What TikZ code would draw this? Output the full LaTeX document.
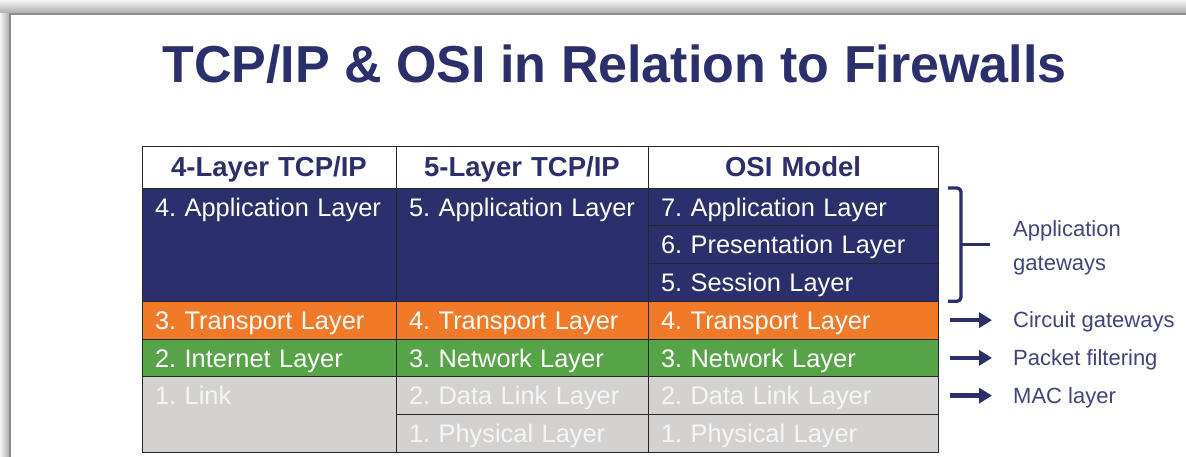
\documentclass[tikz,border=0pt]{standalone}
\usepackage{fontspec}
\setmainfont{Liberation Sans}
\usetikzlibrary{arrows.meta,positioning}
\definecolor{navy}{HTML}{2B2F6C}
\definecolor{tcporange}{HTML}{F07A27}
\definecolor{ipgreen}{HTML}{56A447}
\definecolor{linkgray}{HTML}{D3D2D1}
\frenchspacing

\begin{document}
\begin{tikzpicture}[x=1pt,y=-1pt,
  cell/.style={draw=black!85,line width=0.8pt,rectangle,inner xsep=13pt,inner ysep=0pt,
    outer sep=0pt,minimum height=37.75pt,align=left,text=white,
    font=\fontsize{25.4}{30}\selectfont,text height=21pt,text depth=2.5pt},
  colA/.style={text width=228pt},
  colB/.style={text width=226pt},
  colC/.style={text width=264pt},
  span2/.style={minimum height=75.5pt,text depth=40.25pt},
  span3/.style={minimum height=113.25pt,text depth=78pt},
  head/.style={cell,fill=white,text=navy,align=center,minimum height=42pt,
    font=\fontsize{27.5}{30}\selectfont\bfseries,text height=22pt,text depth=3pt},
  app/.style={cell,fill=navy},
  trans/.style={cell,fill=tcporange},
  net/.style={cell,fill=ipgreen},
  link/.style={cell,fill=linkgray,text=white!96!black},
  note/.style={inner sep=0pt,text=navy!90!white,align=left,font=\fontsize{22}{34}\selectfont},
  note1/.style={note,text height=18pt,text depth=3pt},
  arr/.style={navy,line width=4.5pt,-{Triangle[length=13pt,width=15pt]}},
  node distance=0pt]
\useasboundingbox (0,0) rectangle (1186,457);
% page with shadow
\fill[top color=black!4,bottom color=black!35] (0,0) rectangle (1186,14);
\fill[left color=black!4,right color=black!35] (0,14) rectangle (10,457);
\fill[white] (10,14) rectangle (1186,457);
\draw[black!45,line width=1.2pt] (10,457) -- (10,14) -- (1186,14);

\node[font=\fontsize{52}{60}\selectfont\bfseries,text=navy,anchor=base] (title) at (614.5,83)
  {TCP/IP \& OSI in Relation to Firewalls};

% headers
\node[head,colA,anchor=north west] (h4) at (142,146) {4-Layer TCP/IP};
\node[head,colB,right=of h4] (h5) {5-Layer TCP/IP};
\node[head,colC,right=of h5] (hosi) {OSI Model};

% 4-layer column
\node[app,colA,span3,below=of h4] (a4) {4. Application Layer};
\node[trans,colA,below=of a4] (t3) {3. Transport Layer};
\node[net,colA,below=of t3] (i2) {2. Internet Layer};
\node[link,colA,span2,below=of i2] (l1) {1. Link};

% 5-layer column
\node[app,colB,span3,below=of h5] (a5) {5. Application Layer};
\node[trans,colB,below=of a5] (t4) {4. Transport Layer};
\node[net,colB,below=of t4] (n3) {3. Network Layer};
\node[link,colB,below=of n3] (d2) {2. Data Link Layer};
\node[link,colB,below=of d2] (p1) {1. Physical Layer};

% OSI column
\node[app,colC,below=of hosi] (o7) {7. Application Layer};
\node[app,colC,below=of o7] (o6) {6. Presentation Layer};
\node[app,colC,below=of o6] (o5) {5. Session Layer};
\node[trans,colC,below=of o5] (o4) {4. Transport Layer};
\node[net,colC,below=of o4] (o3) {3. Network Layer};
\node[link,colC,below=of o3] (o2) {2. Data Link Layer};
\node[link,colC,below=of o2] (o1) {1. Physical Layer};

% bracket
\coordinate (brtop) at ([xshift=10pt]o7.north east);
\coordinate (brbot) at ([xshift=10pt]o5.south east);
\coordinate (brmid) at ([xshift=23pt]o6.east);
\draw[navy,line width=3.3pt,rounded corners=4pt] (brtop) -- ++(13,0) |- (brbot);
\draw[navy,line width=3.3pt] (brmid) -- ++(29,0) coordinate (brtip);
\node[note,anchor=west] (appgw) at ([xshift=23pt,yshift=-3pt]brtip) {Application\\gateways};

% firewall types
\node[note1,right=75pt of o4] (circ) {Circuit gateways};
\node[note1,right=75pt of o3] (pkt) {Packet filtering};
\node[note1,right=75pt of o2] (mac) {MAC layer};
\draw[arr] ([xshift=12pt]o4.east) -- ([xshift=-21pt]circ.west);
\draw[arr] ([xshift=12pt]o3.east) -- ([xshift=-21pt]pkt.west);
\draw[arr] ([xshift=12pt]o2.east) -- ([xshift=-21pt]mac.west);
\end{tikzpicture}
\end{document}
